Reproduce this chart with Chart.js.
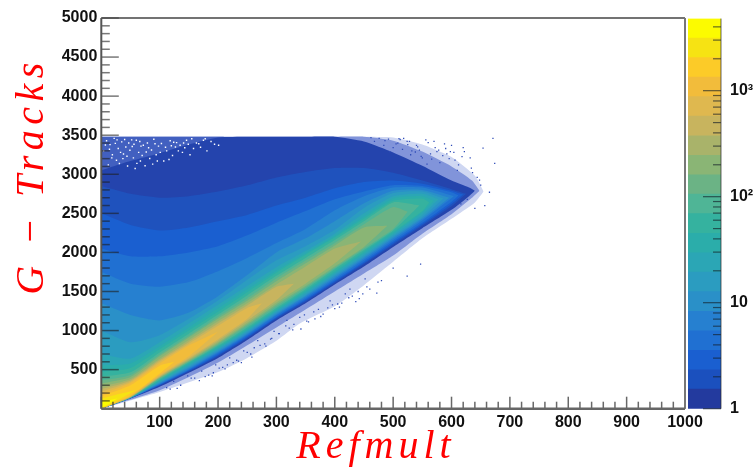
<!DOCTYPE html>
<html lang="en">
  <head>
    <meta charset="UTF-8" />
    <title>G-Tracks vs Refmult</title>
    <script src="https://cdn.jsdelivr.net/npm/chart.js"></script>
    <style>
      html, body { margin: 0; background: #fff; }
      canvas { position: absolute; left: 0; top: 0; }
    </style>
  </head>
  <body>
    <canvas id="mapChart" width="754" height="469"></canvas>
    <canvas id="paletteChart" width="754" height="469"></canvas>

    <script>
      // outlines of the count levels (Refmult, G-Tracks)
      const bandColors = ["#cfd7f2", "#8194da", "#4260c0", "#2444ad", "#1f52bd", "#1a5fd0", "#2070d2", "#2680d0", "#2a90c8", "#2b9cc0", "#2ba6b5", "#2badaa", "#35b29f", "#4fb596", "#6bb385", "#8ab575", "#a9b36a", "#c8b45e", "#dfb84f", "#f2bc3b", "#fccb28", "#f6e313", "#fcfb00"];
      const bandX = [
        [0, 100, 200, 250, 300, 340, 400, 450, 500, 550, 600, 640, 655],
        [0, 100, 200, 300, 400, 450, 500, 550, 600, 635, 648],
        [0, 100, 210],
        [0, 20, 50, 100, 150, 200, 250, 300, 350, 400, 450, 500, 550, 600, 630, 640],
        [0, 50, 100, 150, 200, 250, 300, 350, 400, 450, 500, 550, 600, 625],
        [0, 50, 100, 150, 200, 250, 300, 350, 400, 450, 500, 550, 600, 620],
        [0, 50, 100, 150, 200, 250, 300, 350, 400, 450, 500, 550, 600, 612],
        [0, 50, 100, 150, 200, 250, 300, 350, 400, 450, 500, 550, 604],
        [0, 50, 100, 150, 200, 250, 300, 350, 400, 450, 500, 550, 596],
        [0, 50, 100, 150, 200, 250, 300, 350, 400, 450, 500, 550, 586],
        [0, 50, 100, 150, 200, 250, 300, 350, 400, 450, 500, 550, 578],
        [0, 50, 100, 150, 200, 250, 300, 350, 400, 450, 500, 550, 570],
        [0, 50, 100, 150, 200, 250, 300, 350, 400, 450, 500, 550, 562],
        [0, 50, 100, 150, 200, 250, 300, 350, 400, 450, 500, 545],
        [0, 50, 100, 150, 200, 250, 300, 350, 400, 450, 500, 525],
        [0, 50, 100, 150, 200, 250, 300, 350, 400, 450, 490],
        [0, 50, 100, 150, 200, 250, 300, 350, 400, 445],
        [0, 50, 100, 150, 200, 250, 300, 330],
        [0, 50, 100, 150, 200, 250, 275],
        [0, 50, 100, 150, 200],
        [0, 50, 100, 125],
        [0, 20, 60],
        [0, 14, 28],
      ];
      const bandLow = [
        [0, 215, 470, 650, 870, 1090, 1310, 1580, 1880, 2180, 2430, 2640, 2780],
        [0, 235, 590, 1040, 1500, 1730, 1960, 2240, 2490, 2700, 2790],
        [2900, 3000, 3470],
        [0, 50, 130, 280, 460, 650, 880, 1130, 1350, 1590, 1820, 2070, 2310, 2545, 2720, 2790],
        [0, 133, 296, 475, 670, 900, 1150, 1370, 1610, 1850, 2095, 2340, 2590, 2750],
        [0, 134, 302, 485, 685, 915, 1165, 1385, 1625, 1865, 2115, 2360, 2620, 2740],
        [0, 135, 308, 495, 700, 930, 1175, 1400, 1640, 1880, 2135, 2380, 2650, 2730],
        [0, 136, 315, 505, 715, 945, 1195, 1420, 1660, 1905, 2160, 2410, 2720],
        [0, 137, 325, 520, 730, 960, 1210, 1440, 1680, 1925, 2180, 2430, 2700],
        [0, 138, 335, 535, 745, 975, 1225, 1450, 1700, 1945, 2200, 2450, 2690],
        [0, 139, 345, 550, 760, 990, 1240, 1470, 1720, 1965, 2220, 2480, 2680],
        [0, 140, 355, 565, 775, 1005, 1255, 1490, 1740, 1990, 2240, 2510, 2660],
        [0, 141, 365, 580, 790, 1020, 1270, 1510, 1760, 2010, 2260, 2530, 2640],
        [0, 142, 375, 590, 805, 1040, 1290, 1530, 1785, 2030, 2280, 2600],
        [0, 143, 385, 600, 820, 1060, 1310, 1550, 1800, 2050, 2300, 2520],
        [0, 145, 395, 610, 835, 1080, 1335, 1570, 1820, 2070, 2340],
        [0, 147, 400, 620, 850, 1100, 1360, 1600, 1860, 2140],
        [0, 150, 410, 635, 870, 1125, 1390, 1600],
        [0, 155, 420, 650, 890, 1150, 1350],
        [0, 160, 430, 670, 985],
        [0, 165, 450, 600],
        [5, 75, 240],
        [5, 62, 135],
      ];
      const bandHigh = [
        [3480, 3480, 3480, 3480, 3480, 3480, 3480, 3480, 3470, 3380, 3220, 2980, 2780],
        [3480, 3480, 3480, 3480, 3480, 3480, 3430, 3290, 3100, 2920, 2790],
        [3480, 3480, 3480],
        [3050, 3100, 3170, 3270, 3380, 3470, 3480, 3480, 3480, 3480, 3420, 3280, 3110, 2920, 2830, 2790],
        [2850, 2750, 2700, 2720, 2780, 2860, 2960, 3030, 3080, 3080, 3020, 2920, 2810, 2750],
        [2500, 2350, 2280, 2320, 2400, 2480, 2600, 2700, 2820, 2900, 2920, 2880, 2790, 2740],
        [2050, 1950, 1950, 2000, 2080, 2220, 2380, 2530, 2680, 2780, 2860, 2850, 2770, 2730],
        [1750, 1600, 1560, 1620, 1760, 1930, 2120, 2300, 2540, 2720, 2830, 2830, 2720],
        [1350, 1200, 1130, 1230, 1440, 1710, 2000, 2180, 2400, 2630, 2790, 2800, 2700],
        [1000, 850, 940, 1150, 1385, 1650, 1900, 2080, 2290, 2570, 2760, 2780, 2690],
        [700, 640, 850, 1090, 1330, 1570, 1810, 2020, 2240, 2500, 2720, 2750, 2680],
        [560, 580, 800, 1040, 1285, 1530, 1770, 1990, 2210, 2460, 2690, 2720, 2660],
        [470, 520, 760, 1000, 1240, 1490, 1740, 1970, 2190, 2430, 2660, 2690, 2640],
        [410, 465, 720, 960, 1205, 1450, 1700, 1930, 2160, 2400, 2640, 2600],
        [360, 430, 690, 930, 1175, 1410, 1665, 1895, 2120, 2360, 2580, 2520],
        [320, 405, 670, 910, 1150, 1380, 1630, 1860, 2090, 2320, 2340],
        [280, 380, 640, 880, 1120, 1350, 1590, 1820, 2050, 2140],
        [250, 360, 620, 855, 1090, 1320, 1560, 1600],
        [220, 345, 600, 830, 1060, 1290, 1350],
        [190, 330, 580, 810, 985],
        [160, 300, 550, 600],
        [130, 170, 240],
        [90, 112, 135],
      ];

      // empty bins in the upper left corner
      const holeX = [4, 9, 12, 15, 19, 22, 26, 29, 31, 35, 38, 42, 45, 49, 52, 55, 58, 60, 64, 67, 72, 75, 79, 83, 86, 90, 94, 98, 103, 107, 112, 118, 122, 127, 135, 139, 146, 152, 158, 163, 170, 175, 181, 188, 194, 201, 18, 33, 47, 61, 70, 88, 101, 116, 129, 143, 7, 24, 40, 53, 66, 77, 92, 110, 124, 141, 155, 167, 178, 14, 37, 56, 81, 96, 120, 132, 149, 27, 44, 68];
      const holeY = [3300, 3430, 3120, 3380, 3250, 3460, 3180, 3330, 3138, 3415, 3260, 3350, 3105, 3308, 3440, 3210, 3074, 3436, 3280, 3170, 3372, 3110, 3400, 3202, 3310, 3448, 3250, 3360, 3394, 3170, 3300, 3430, 3240, 3350, 3372, 3280, 3435, 3250, 3330, 3400, 3345, 3436, 3300, 3420, 3385, 3372, 3210, 3280, 3400, 3140, 3240, 3130, 3280, 3190, 3405, 3340, 3375, 3395, 3445, 3355, 3420, 3285, 3390, 3345, 3410, 3400, 3455, 3390, 3455, 3320, 3200, 3385, 3340, 3170, 3365, 3300, 3385, 3440, 3230, 3360];

      // lone filled bins outside the dense part
      const loneX = [671, 654, 674, 665, 657, 640, 648, 632, 620, 612, 604, 596, 588, 580, 572, 564, 556, 548, 540, 532, 524, 516, 508, 500, 492, 484, 476, 468, 610, 598, 585, 570, 558, 545, 530, 518, 505, 494, 600, 575, 550, 525, 650, 636, 627, 616, 547, 524, 472, 460, 448, 436, 424, 412, 400, 388, 376, 364, 352, 340, 328, 316, 304, 292, 280, 268, 256, 244, 232, 220, 208, 196, 184, 172, 160, 148, 136, 124, 112, 500, 480, 455, 430, 405, 380, 355, 330, 305, 282, 258, 235, 212, 190, 168, 510, 528, 542, 560, 578, 592, 606, 622, 634, 644, 618, 590, 566, 538, 512, 486, 462, 474, 452, 440, 418, 396, 372, 348, 322, 296, 272, 250, 226, 202, 178, 154, 130, 118, 442, 426, 408, 392, 366, 342, 318, 290, 262, 240, 216, 192];
      const loneY = [3460, 3335, 3140, 2770, 2600, 2565, 2925, 3210, 3340, 3120, 3280, 3200, 3390, 3150, 3340, 3260, 3440, 3230, 3370, 3300, 3420, 3320, 3400, 3340, 3450, 3370, 3460, 3420, 3050, 3290, 3240, 3420, 3130, 3310, 3250, 3460, 3390, 3290, 3370, 3290, 3210, 3380, 2860, 3020, 2680, 2620, 1850, 1697, 1479, 1530, 1470, 1370, 1420, 1350, 1280, 1290, 1180, 1240, 1120, 1170, 1010, 1060, 960, 900, 830, 870, 700, 740, 620, 650, 530, 560, 430, 480, 390, 420, 300, 350, 270, 1800, 1640, 1560, 1440, 1340, 1210, 1110, 1080, 960, 800, 660, 610, 510, 420, 360, 3455, 3420, 3350, 3405, 3310, 3260, 3180, 3290, 3080, 2960, 3225, 3330, 3195, 3285, 3445, 3430, 3470, 1620, 1660, 1500, 1470, 1330, 1270, 1200, 1030, 990, 810, 720, 590, 520, 410, 390, 260, 250, 1410, 1530, 1300, 1380, 1150, 1020, 1130, 890, 780, 590, 560, 460];

      const xTicks = [100, 200, 300, 400, 500, 600, 700, 800, 900, 1000];
      const yTicks = [500, 1000, 1500, 2000, 2500, 3000, 3500, 4000, 4500, 5000];

      // palette on the right: 20 steps from 1 up to the top of the scale
      const paletteEdges = [1, 1.53, 2.33, 3.56, 5.44, 8.31, 12.7, 19.4, 29.6, 45.2, 69.1, 105.6, 161, 246, 376, 575, 878, 1342, 2050, 3132, 4786];
      const paletteColors = ["#233a9e", "#1b50be", "#1a5fd0", "#2070d2", "#2680d0", "#2a90c8", "#2b9cc0", "#2ba6b5", "#2badaa", "#35b29f", "#4fb596", "#6bb385", "#8ab575", "#a9b36a", "#c8b45e", "#dfb84f", "#f2bc3b", "#fccb28", "#f6e313", "#fcfb00"];
      const paletteTicks = [1, 2, 3, 4, 5, 6, 7, 8, 9, 10, 20, 30, 40, 50, 60, 70, 80, 90, 100, 200, 300, 400, 500, 600, 700, 800, 900, 1000, 2000, 3000, 4000];
      const paletteLabels = { 1: "1", 10: "10", 100: "10²", 1000: "10³" };

      const tickFont = { family: "'Liberation Sans'", size: 16, weight: "bold" };

      const mapDatasets = [];
      bandX.forEach((xs, i) => {
        const base = mapDatasets.length;
        mapDatasets.push({
          data: xs.map((x, j) => ({ x: x, y: bandLow[i][j] })),
          borderWidth: 0,
          pointRadius: 0,
          tension: 0.2,
          order: 100 - i,
        });
        mapDatasets.push({
          data: xs.map((x, j) => ({ x: x, y: bandHigh[i][j] })),
          backgroundColor: bandColors[i],
          borderWidth: 0,
          pointRadius: 0,
          tension: 0.2,
          fill: { target: base },
          order: 100 - i,
        });
      });
      mapDatasets.push({
        data: holeX.map((x, i) => ({ x: x, y: holeY[i] })),
        showLine: false,
        pointStyle: "rect",
        pointRadius: 1,
        pointBorderWidth: 0,
        backgroundColor: "#ffffff",
        order: 2,
      });
      mapDatasets.push({
        data: loneX.map((x, i) => ({ x: x, y: loneY[i] })),
        showLine: false,
        pointStyle: "rect",
        pointRadius: 0.9,
        pointBorderWidth: 0,
        backgroundColor: "#2f4cb8",
        order: 1,
      });

      function axisLine(ctx, x1, y1, x2, y2, color, width) {
        ctx.strokeStyle = color;
        ctx.lineWidth = width;
        ctx.beginPath();
        ctx.moveTo(x1, y1);
        ctx.lineTo(x2, y2);
        ctx.stroke();
      }

      // ROOT style: ticks inside the frame, frame on top of the map
      const insideTicks = {
        id: "insideTicks",
        afterDatasetsDraw(chart) {
          const ctx = chart.ctx;
          const a = chart.chartArea;
          const xs = chart.scales.x;
          const ys = chart.scales.y;
          ctx.save();
          for (let v = 0; v <= 1000; v += 20) {
            const px = xs.getPixelForValue(v);
            axisLine(ctx, px, a.bottom, px, a.bottom - (v % 100 === 0 ? 12 : 7), "rgba(40,40,40,0.7)", 1.5);
          }
          for (let v = 0; v <= 5000; v += 100) {
            const py = ys.getPixelForValue(v);
            axisLine(ctx, a.left, py, a.left + (v % 500 === 0 ? 17.5 : 8.5), py, "rgba(30,30,30,0.6)", 1.5);
          }
          axisLine(ctx, a.left, a.top, a.right, a.top, "#444", 1.5);
          axisLine(ctx, a.right, a.top, a.right, a.bottom, "#777", 2);
          axisLine(ctx, a.left, a.top, a.left, a.bottom, "#555", 2);
          axisLine(ctx, a.left, a.bottom, a.right, a.bottom, "#666", 2.5);
          ctx.restore();
        },
      };

      const axisNames = {
        id: "axisNames",
        afterDraw(chart) {
          const ctx = chart.ctx;
          ctx.save();
          ctx.fillStyle = "#ff0000";
          ctx.font = "italic 40px 'Liberation Serif'";
          ctx.textAlign = "center";
          ctx.textBaseline = "middle";
          ctx.letterSpacing = "5px";
          ctx.fillText("Refmult", 376, 447);
          ctx.translate(32, 176);
          ctx.rotate(-Math.PI / 2);
          ctx.letterSpacing = "5.5px";
          ctx.fillText("G − Tracks", 0, 0);
          ctx.restore();
        },
      };

      new Chart(document.getElementById("mapChart"), {
        type: "line",
        data: { datasets: mapDatasets },
        plugins: [insideTicks, axisNames],
        options: {
          responsive: false,
          animation: false,
          layout: { padding: { top: 18, right: 69 } },
          plugins: { legend: { display: false }, tooltip: { enabled: false } },
          scales: {
            x: {
              type: "linear",
              min: 0,
              max: 1000,
              afterFit: (s) => { s.height = 60.3; },
              afterBuildTicks: (s) => { s.ticks = xTicks.map((v) => ({ value: v })); },
              grid: { display: false, drawTicks: false },
              border: { display: false },
              ticks: { font: tickFont, color: "#111", padding: 4, maxRotation: 0, autoSkip: false, callback: (v) => String(v) },
            },
            y: {
              min: 0,
              max: 5000,
              afterFit: (s) => { s.width = 101.3; },
              afterBuildTicks: (s) => { s.ticks = yTicks.map((v) => ({ value: v })); },
              grid: { display: false, drawTicks: false },
              border: { display: false },
              ticks: { font: tickFont, color: "#111", padding: 4, autoSkip: false, callback: (v) => String(v) },
            },
          },
        },
      });

      const paletteMarks = {
        id: "paletteMarks",
        afterDatasetsDraw(chart) {
          const ctx = chart.ctx;
          const a = chart.chartArea;
          const ys = chart.scales.y;
          ctx.save();
          paletteTicks.forEach((v) => {
            const py = ys.getPixelForValue(v);
            axisLine(ctx, a.right, py, a.right - (paletteLabels[v] ? 18 : 8), py, "rgba(20,30,40,0.65)", 1.2);
          });
          axisLine(ctx, a.right, a.top, a.right, a.bottom, "rgba(40,40,40,0.7)", 1);
          ctx.restore();
        },
      };

      new Chart(document.getElementById("paletteChart"), {
        type: "bar",
        data: {
          labels: ["counts"],
          datasets: paletteColors.map((c, i) => ({
            data: [[paletteEdges[i], paletteEdges[i + 1]]],
            backgroundColor: c,
            borderWidth: 0,
            barPercentage: 1,
            categoryPercentage: 1,
            grouped: false,
          })),
        },
        plugins: [paletteMarks],
        options: {
          responsive: false,
          animation: false,
          layout: { padding: { top: 18, left: 688 } },
          plugins: { legend: { display: false }, tooltip: { enabled: false } },
          scales: {
            x: { display: false, afterFit: (s) => { s.height = 60.3; } },
            y: {
              type: "logarithmic",
              position: "right",
              min: 1,
              max: 4786,
              afterFit: (s) => { s.width = 33; },
              afterBuildTicks: (s) => { s.ticks = paletteTicks.map((v) => ({ value: v })); },
              grid: { display: false, drawTicks: false },
              border: { display: false },
              ticks: {
                font: tickFont,
                color: "#111",
                padding: 9,
                autoSkip: false,
                callback: (v) => paletteLabels[v] || "",
              },
            },
          },
        },
      });
    </script>
  </body>
</html>
